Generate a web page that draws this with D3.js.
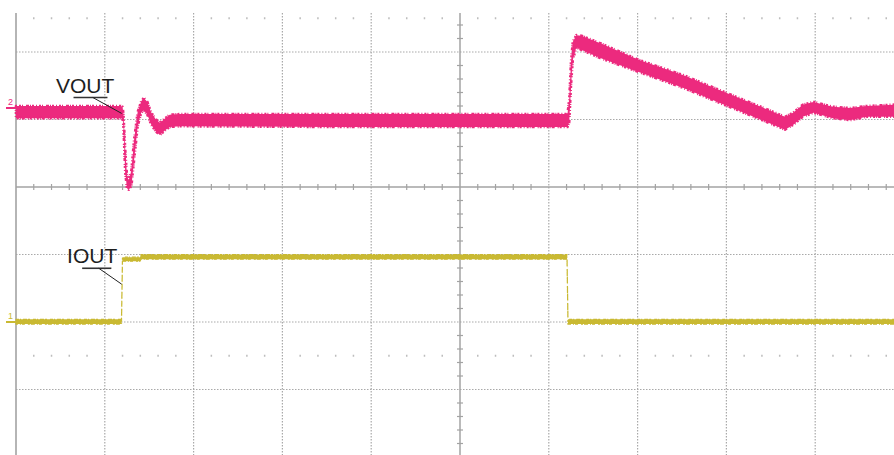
<!DOCTYPE html>
<html>
<head>
<meta charset="utf-8">
<script src="https://cdn.jsdelivr.net/npm/d3@7"></script>
<style>
  html, body { margin: 0; padding: 0; background: #ffffff; }
  svg { display: block; }
  text { font-family: "Liberation Sans", Arial, sans-serif; }
</style>
</head>
<body>
<svg id="scope" width="894" height="455"></svg>
<script>
// Time axis in divisions (10 across), amplitude in divisions (centre = 0)
const timeDivs = d3.range(0, 11);
const voltDivs = d3.range(-4, 5);

// CH2 output voltage: envelope of the noisy trace (upper / lower edge)
const voutT  = [0, 1.18, 1.20, 1.21, 1.23, 1.25, 1.27, 1.30, 1.33, 1.37, 1.41, 1.44, 1.48, 1.52, 1.57, 1.62, 1.68, 1.73, 1.85, 3.50, 5.00, 6.21, 6.23, 6.25, 6.27, 6.31, 6.37, 6.58, 7.02, 7.51, 8.01, 8.46, 8.66, 8.75, 8.86, 8.98, 9.20, 9.39, 9.58, 9.89];
const voutHi = [1.20, 1.20, 1.19, 1.08, 0.55, 0.16, 0.10, 0.25, 0.70, 1.11, 1.27, 1.32, 1.26, 1.11, 1.01, 0.95, 1.02, 1.07, 1.08, 1.08, 1.08, 1.08, 1.29, 1.85, 2.15, 2.25, 2.24, 2.13, 1.88, 1.66, 1.39, 1.15, 1.04, 1.10, 1.22, 1.26, 1.19, 1.17, 1.20, 1.22];
const voutLo = [1.02, 1.02, 1.01, 0.90, 0.22, -0.02, -0.04, 0.02, 0.40, 0.90, 1.10, 1.14, 1.07, 0.93, 0.83, 0.77, 0.84, 0.89, 0.90, 0.89, 0.89, 0.89, 0.96, 1.51, 1.88, 2.07, 2.03, 1.91, 1.70, 1.47, 1.20, 0.96, 0.85, 0.92, 1.04, 1.10, 1.02, 0.99, 1.04, 1.04];

// CH1 output current: load step envelope
const ioutT  = [0, 1.188, 1.199, 1.396, 1.408, 6.205, 6.216, 9.89];
const ioutHi = [-1.96, -1.96, -1.04, -1.04, -1.00, -1.00, -1.96, -1.96];
const ioutLo = [-2.03, -2.03, -1.10, -1.10, -1.07, -1.07, -2.03, -2.03];

// Channel labels and where their leader lines land on the traces
const labelNames = ["VOUT", "IOUT"];
const labelAt    = [[0.45, 1.40], [0.575, -1.13]];
const leaderEnd  = [[1.19, 1.09], [1.19, -1.44]];

// Channel ground markers on the left edge
const markerNames = ["2", "1"];
const markerLevel = [1.17, -2.0];

const colours = { vout: "#ec2a7e", iout: "#c9b932", grid: "#a9a9a9", axis: "#a3a3a3", text: "#1e1e1e" };

const svg = d3.select("#scope");
const W = 894, H = 455;
const x = d3.scaleLinear().domain([0, 10]).range([16, 904]);
const y = d3.scaleLinear().domain([-4, 4]).range([457, -83]);
const gridTop = 13;

const grid = svg.append("g");

// Dotted major grid lines (vertical)
grid.selectAll("line.gv").data(timeDivs.filter(d => d !== 0 && d !== 5 && x(d) < W))
  .join("line").attr("class", "gv")
  .attr("x1", d => x(d)).attr("x2", d => x(d))
  .attr("y1", gridTop).attr("y2", H)
  .attr("stroke", colours.grid).attr("stroke-width", 1.2).attr("stroke-dasharray", "1.5,1.5");

// Dotted major grid lines (horizontal)
grid.selectAll("line.gh").data(voltDivs.filter(d => d !== 0 && y(d) > gridTop && y(d) < H))
  .join("line").attr("class", "gh")
  .attr("x1", x(0)).attr("x2", W)
  .attr("y1", d => y(d)).attr("y2", d => y(d))
  .attr("stroke", colours.grid).attr("stroke-width", 1.2).attr("stroke-dasharray", "1.5,1.5");

// Sparse minor-dot rows half a division beyond the +/-2 lines
const minorX = d3.range(1, 50).map(i => i / 5).filter(t => Math.abs(t - Math.round(t)) > 1e-6);
[2.5, -2.5].forEach(v => {
  grid.selectAll(null).data(minorX).join("rect")
    .attr("x", t => x(t) - 0.75).attr("y", y(v) - 1)
    .attr("width", 1.5).attr("height", 2)
    .attr("fill", "#bdbdbd");
});

// Left frame edge
grid.append("line")
  .attr("x1", x(0)).attr("x2", x(0)).attr("y1", gridTop).attr("y2", H)
  .attr("stroke", colours.axis).attr("stroke-width", 1.6);

// Centre axes with minor ticks
grid.append("line")
  .attr("x1", x(0)).attr("x2", W).attr("y1", y(0)).attr("y2", y(0))
  .attr("stroke", colours.axis).attr("stroke-width", 1.5);
grid.append("line")
  .attr("x1", x(5)).attr("x2", x(5)).attr("y1", gridTop).attr("y2", H)
  .attr("stroke", colours.axis).attr("stroke-width", 1.5);

grid.selectAll("line.tx").data(minorX.filter(t => x(t) < W))
  .join("line").attr("class", "tx")
  .attr("x1", t => x(t)).attr("x2", t => x(t))
  .attr("y1", y(0) - 3).attr("y2", y(0) + 3)
  .attr("stroke", colours.axis).attr("stroke-width", 1.2);

const minorY = d3.range(-20, 21).map(i => i / 5).filter(v => Math.abs(v - Math.round(v)) > 1e-6 && y(v) > gridTop && y(v) < H);
grid.selectAll("line.ty").data(minorY)
  .join("line").attr("class", "ty")
  .attr("x1", x(5) - 3).attr("x2", x(5) + 3)
  .attr("y1", v => y(v)).attr("y2", v => y(v))
  .attr("stroke", colours.axis).attr("stroke-width", 1.2);

// Traces drawn as filled envelopes with a ragged edge stroke
const band = d3.area()
  .x(d => x(d.t)).y0(d => y(d.lo)).y1(d => y(d.hi));

const iout = ioutT.map((t, i) => ({ t, hi: ioutHi[i], lo: ioutLo[i] }));
svg.append("path").datum(iout)
  .attr("d", band)
  .attr("fill", colours.iout)
  .attr("stroke", colours.iout).attr("stroke-width", 1.2)
  .attr("stroke-dasharray", "3,1,1,2,4,1,2,3");

const vout = voutT.map((t, i) => ({ t, hi: voutHi[i], lo: voutLo[i] }));
svg.append("path").datum(vout)
  .attr("d", band)
  .attr("fill", colours.vout)
  .attr("stroke", colours.vout).attr("stroke-width", 2.6)
  .attr("stroke-dasharray", "1,2,2,1,1,3,3,1,1,1,2,2")
  .attr("stroke-linejoin", "round");

// Channel labels with underline and leader line
labelNames.forEach((name, i) => {
  const [lt, lv] = labelAt[i];
  const tx = svg.append("text")
    .attr("x", x(lt)).attr("y", y(lv))
    .attr("font-size", 21).attr("fill", colours.text)
    .text(name);
  const bb = tx.node().getBBox();
  const uy = bb.y + bb.height + 1;
  const ux0 = bb.x + bb.width * 0.3, ux1 = bb.x + bb.width * 0.88;
  svg.append("line")
    .attr("x1", ux0).attr("x2", ux1).attr("y1", uy).attr("y2", uy)
    .attr("stroke", "#333").attr("stroke-width", 1.6);
  svg.append("line")
    .attr("x1", bb.x + bb.width * 0.63).attr("y1", uy)
    .attr("x2", x(leaderEnd[i][0])).attr("y2", y(leaderEnd[i][1]))
    .attr("stroke", "#222").attr("stroke-width", 1);
});

// Channel ground markers
const markerCol = [colours.vout, colours.iout];
markerNames.forEach((m, i) => {
  svg.append("text")
    .attr("x", 8).attr("y", y(markerLevel[i]) - 3)
    .attr("font-size", 9).attr("fill", markerCol[i])
    .text(m);
  svg.append("line")
    .attr("x1", 6).attr("x2", x(0)).attr("y1", y(markerLevel[i])).attr("y2", y(markerLevel[i]))
    .attr("stroke", markerCol[i]).attr("stroke-width", 2);
});
</script>
</body>
</html>
